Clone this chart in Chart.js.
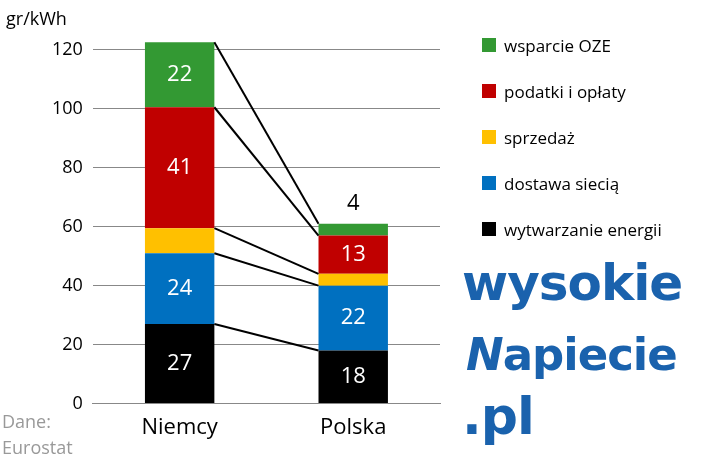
<!DOCTYPE html>
<html><head><meta charset="utf-8">
<script src="https://cdn.jsdelivr.net/npm/chart.js@4"></script>
<style>
body{margin:0;background:#fff;font-family:"Open Sans","Liberation Sans",sans-serif}
#wrap{position:relative;width:701px;height:472px}
canvas{position:absolute;left:0;top:0}
.lg{position:absolute;left:482px;font-size:17px;color:#000}
.lg span{position:absolute;left:0;top:4px;width:14px;height:14px}
.lg div{position:absolute;left:22px;top:0;white-space:nowrap}
.logo{position:absolute;color:#1a62ad;font-family:"DejaVu Sans",sans-serif;font-weight:bold;letter-spacing:-1px;line-height:1}
#src{position:absolute;left:2px;top:408px;color:#999;font-size:18px;line-height:26px}
#unit{position:absolute;left:6px;top:6px;font-size:18px}
</style></head><body>
<div id="wrap"><canvas id="c" width="701" height="472"></canvas>
<div id="unit">gr/kWh</div>
<div id="src">Dane:<br>Eurostat</div>
<div id="legend"></div>
<div class="logo" style="left:462px;top:258px;font-size:50px">wysokie</div>
<div class="logo" style="left:466px;top:332px;font-size:45px"><span style="font-style:italic">N</span>apiecie</div>
<div class="logo" style="left:462px;top:390px;font-size:52px">.pl</div>
</div>
<script>
Chart.defaults.font.family = '"Open Sans", sans-serif';
const categories = ['Niemcy', 'Polska'];
const seriesNames = ['wytwarzanie energii', 'dostawa siecią', 'sprzedaż', 'podatki i opłaty', 'wsparcie OZE'];
const wytwarzanie = [27, 18];
const dostawa = [24, 22];
const sprzedaz = [8.5, 4];
const podatki = [41, 13];
const oze = [22, 4];
const yTicks = [0, 20, 40, 60, 80, 100, 120];
const colors = ['#000000', '#0070c0', '#ffc000', '#c00000', '#339933'];
const values = [wytwarzanie, dostawa, sprzedaz, podatki, oze];
const showLabel = [true, true, false, true, true];

const lg = document.getElementById('legend');
[4,3,2,1,0].forEach((i, k) => {
  const d = document.createElement('div');
  d.className = 'lg'; d.style.top = (34 + k * 46) + 'px';
  d.innerHTML = `<span style="background:${colors[i]}"></span><div>${seriesNames[i]}</div>`;
  lg.appendChild(d);
});

const extras = {
  id: 'extras',
  afterDatasetsDraw(chart) {
    const ctx = chart.ctx, y = chart.scales.y;
    const m0 = chart.getDatasetMeta(0).data;
    const xr = m0[0].x + m0[0].width / 2, xl = m0[1].x - m0[1].width / 2;
    let c0 = 0, c1 = 0;
    ctx.save();
    ctx.strokeStyle = '#000'; ctx.lineWidth = 2;
    values.forEach((v, i) => {
      c0 += v[0]; c1 += v[1];
      ctx.beginPath(); ctx.moveTo(xr, y.getPixelForValue(c0)); ctx.lineTo(xl, y.getPixelForValue(c1)); ctx.stroke();
    });
    ctx.font = '22px "Open Sans", sans-serif';
    ctx.textAlign = 'center'; ctx.textBaseline = 'middle';
    values.forEach((v, i) => {
      if (!showLabel[i]) return;
      chart.getDatasetMeta(i).data.forEach((b, j) => {
        if (v[j] < 5) {
          ctx.fillStyle = '#000';
          ctx.fillText(v[j], b.x, b.y - 20);
        } else {
          ctx.fillStyle = '#fff';
          ctx.fillText(v[j], b.x, (b.y + b.base) / 2);
        }
      });
    });
    ctx.restore();
  }
};

new Chart(document.getElementById('c'), {
  type: 'bar',
  data: {
    labels: categories,
    datasets: values.map((v, i) => ({ label: seriesNames[i], data: v, backgroundColor: colors[i], barPercentage: 0.4, categoryPercentage: 1 }))
  },
  options: {
    responsive: false, animation: false,
    layout: { padding: { left: 42, right: 261, top: 35, bottom: 28 } },
    plugins: { legend: { display: false }, tooltip: { enabled: false } },
    scales: {
      x: { stacked: true, grid: { display: false }, border: { color: '#888' },
           ticks: { color: '#000', font: { size: 22 } } },
      y: { stacked: true, min: 0, max: 125, border: { display: false },
           afterBuildTicks: s => { s.ticks = yTicks.map(v => ({ value: v })); },
           grid: { color: '#888', drawTicks: false },
           ticks: { padding: 10, color: '#000', font: { size: 18 } } }
    }
  },
  plugins: [extras]
});
</script>
</body></html>
